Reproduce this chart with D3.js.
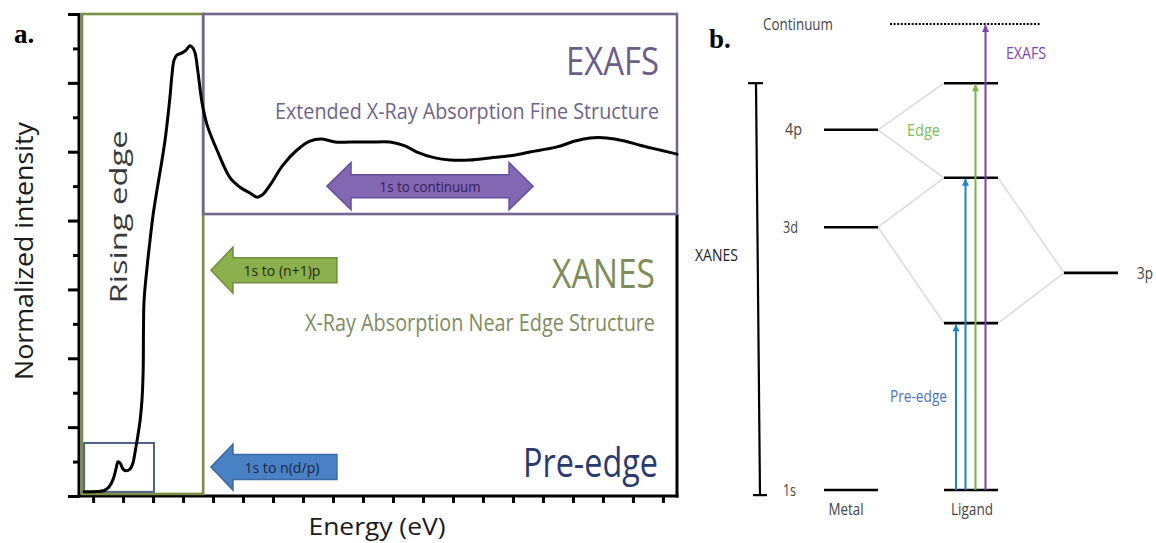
<!DOCTYPE html>
<html>
<head>
<meta charset="utf-8">
<script src="https://cdn.jsdelivr.net/npm/d3@7"></script>
<style>
  body { margin: 0; background: #fff; }
  svg { display: block; }
</style>
</head>
<body>
<svg id="fig" width="1156" height="543"></svg>
<script>
// ---------- Panel a: normalized XAS spectrum ----------
const energy = [-0.30, 0.10, 0.37, 0.53, 0.67, 0.77, 0.83, 0.90, 1.00, 1.10, 1.23, 1.33, 1.40, 1.47,
  1.57, 1.63, 1.67, 1.68, 1.70, 1.80, 1.90, 2.00, 2.13, 2.27, 2.40, 2.50, 2.57, 2.63, 2.70, 2.80,
  2.97, 3.10, 3.23, 3.33, 3.40, 3.50, 3.63, 3.80, 4.13, 4.57, 4.90, 5.23, 5.47, 5.67, 5.90, 6.33,
  6.80, 7.23, 7.63, 8.07, 8.57, 9.23, 9.90, 10.40, 10.80, 11.40, 11.90, 12.57, 13.23, 13.90, 14.57,
  15.47, 16.07, 16.57, 17.13, 17.73, 18.23, 18.90, 19.47];
const intensity = [0.12, 0.13, 0.16, 0.26, 0.49, 0.81, 0.99, 0.96, 0.78, 0.73, 0.78, 0.96, 1.28, 1.63,
  2.21, 2.79, 3.66, 4.82, 5.69, 6.65, 7.44, 8.16, 8.89, 9.61, 10.34, 11.07, 11.65, 12.23, 12.66, 12.81,
  12.87, 12.95, 13.08, 13.01, 12.87, 12.29, 11.44, 10.78, 10.05, 9.24, 8.97, 8.80, 8.68, 8.77, 9.03, 9.61,
  10.05, 10.31, 10.37, 10.28, 10.28, 10.28, 10.28, 10.17, 9.99, 9.82, 9.76, 9.76, 9.82, 9.88, 9.99,
  10.14, 10.31, 10.40, 10.40, 10.31, 10.19, 10.05, 9.93];

const energyTicks = [0, 1, 2, 3, 4, 5, 6, 7, 8, 9, 10, 11, 12, 13, 14, 15, 16, 17, 18, 19];
const intensityMajorTicks = [0, 2, 4, 6, 8, 10, 12, 14];
const intensityMinorTicks = [1, 3, 5, 7, 9, 11, 13];

// spectral regions (energy span, intensity span)
const regionNames = ["Rising edge", "EXAFS", "Pre-edge"];
const regionE0 = [-0.37, 3.67, -0.30];
const regionE1 = [3.67, 19.47, 2.03];
const regionI0 = [0.06, 8.19, 0.12];
const regionI1 = [14.0, 14.0, 1.54];

// transitions drawn as block arrows
const transitionLabels = ["1s to (n+1)p", "1s to n(d/p)", "1s to continuum"];
const transitionE0 = [3.93, 3.93, 7.80];
const transitionE1 = [8.13, 8.13, 14.67];
const transitionI = [6.56, 0.84, 9.00];

// ---------- Panel b: energy-level diagram ----------
const columnNames = ["Metal", "Ligand", ""];
const levelNames = ["1s", "3d", "4p", "1s", "σ1", "σ2", "σ3", "3p"];
const levelColumn = [0, 0, 0, 1, 1, 1, 1, 2];
const levelEnergy = [0, 56.4, 77.3, 0, 35.8, 67.0, 87.3, 46.6];
const continuumEnergy = 100;
// mixing lines: [from level index, to level index]
const mixFrom = [2, 2, 1, 1, 5, 4];
const mixTo = [6, 5, 5, 4, 7, 7];
// excitations from ligand 1s
const excitationNames = ["Pre-edge", "Pre-edge", "Edge", "EXAFS"];
const excitationTop = [35.8, 67.0, 87.3, 100];

const svg = d3.select("#fig");
const FONT = "'Open Sans', 'DejaVu Sans', sans-serif";

const x = d3.scaleLinear().domain([-0.47, 19.47]).range([79, 677]);
const y = d3.scaleLinear().domain([0, 14]).range([496, 14]);

const a = svg.append("g");

// axes
const yMajor = a.append("g").attr("transform", `translate(${x(-0.47)},0)`)
  .call(d3.axisLeft(y).tickValues(intensityMajorTicks).tickSize(11).tickSizeOuter(0).tickFormat(""));
const yMinor = a.append("g").attr("transform", `translate(${x(-0.47)},0)`)
  .call(d3.axisLeft(y).tickValues(intensityMinorTicks).tickSize(6).tickSizeOuter(0).tickFormat(""));
yMinor.select(".domain").remove();
const xAxis = a.append("g").attr("transform", `translate(0,${y(0)})`)
  .call(d3.axisBottom(x).tickValues(energyTicks).tickSize(7).tickSizeOuter(0).tickFormat(""));
[yMajor, yMinor, xAxis].forEach(g => {
  g.selectAll("path,line").attr("stroke", "#000").attr("stroke-width", 3);
});
yMajor.select(".domain").attr("d", `M0,${y(0) + 1.5}V${y(14) - 1}`);
xAxis.select(".domain").attr("d", `M${x(-0.47) - 1.5},0H${x(19.47) + 1.5}`);
// right frame
a.append("line").attr("x1", x(19.47)).attr("x2", x(19.47))
  .attr("y1", y(8.19)).attr("y2", y(0) + 1.5).attr("stroke", "#000").attr("stroke-width", 3);

// region boxes
const regionStroke = ["#7a8e45", "#73668f", "#4e6384"];
regionNames.forEach((n, i) => {
  a.append("rect")
    .attr("x", x(regionE0[i])).attr("y", y(regionI1[i]))
    .attr("width", x(regionE1[i]) - x(regionE0[i]))
    .attr("height", y(regionI0[i]) - y(regionI1[i]))
    .attr("fill", "none").attr("stroke", regionStroke[i]).attr("stroke-width", i === 2 ? 2 : 2.6);
});

// spectrum
a.append("path")
  .datum(energy.map((e, i) => [e, intensity[i]]))
  .attr("d", d3.line().x(d => x(d[0])).y(d => y(d[1])).curve(d3.curveCatmullRom.alpha(0.5)))
  .attr("fill", "none").attr("stroke", "#000").attr("stroke-width", 3)
  .attr("stroke-linejoin", "round").attr("stroke-linecap", "round");

// block arrows
const arrowFill = ["#8db04f", "#4a80c4", "#8467b3"];
const arrowStroke = ["#6f8f3c", "#3b6aa3", "#66509a"];
const arrowText = ["#1f2a0c", "#182844", "#32215a"];
function blockArrow(x0, x1, yc, headLen, headHalf, bodyHalf, both) {
  const p = [];
  p.push([x0, yc], [x0 + headLen, yc - headHalf], [x0 + headLen, yc - bodyHalf]);
  if (both) {
    p.push([x1 - headLen, yc - bodyHalf], [x1 - headLen, yc - headHalf], [x1, yc],
           [x1 - headLen, yc + headHalf], [x1 - headLen, yc + bodyHalf]);
  } else {
    p.push([x1, yc - bodyHalf], [x1, yc + bodyHalf]);
  }
  p.push([x0 + headLen, yc + bodyHalf], [x0 + headLen, yc + headHalf]);
  return "M" + p.map(q => q.join(",")).join("L") + "Z";
}
const arrowTextLen = [77, 75, 101];
transitionLabels.forEach((t, i) => {
  const both = i === 2;
  const x0 = x(transitionE0[i]), x1 = x(transitionE1[i]), yc = y(transitionI[i]);
  a.append("path")
    .attr("d", both ? blockArrow(x0, x1, yc, 24, 23.5, 11.5, true) : blockArrow(x0, x1, yc, 22, 23, 12.5, false))
    .attr("fill", arrowFill[i]).attr("stroke", arrowStroke[i]).attr("stroke-width", 1.5);
  const cx = both ? (x0 + x1) / 2 : x0 + 22 + (x1 - x0 - 22) / 2 - 3;
  a.append("text").attr("x", cx).attr("y", yc + 5.5)
    .attr("text-anchor", "middle").attr("font-family", FONT).attr("font-size", 15)
    .attr("fill", arrowText[i]).attr("textLength", arrowTextLen[i]).attr("lengthAdjust", "spacingAndGlyphs")
    .text(t);
});

// titles
function label(g, txt, px, py, size, color, len, anchor, extra) {
  const t = g.append("text").attr("x", px).attr("y", py)
    .attr("font-family", FONT).attr("font-size", size).attr("fill", color)
    .attr("text-anchor", anchor || "start").text(txt);
  if (len) t.attr("textLength", len).attr("lengthAdjust", "spacingAndGlyphs");
  if (extra) extra(t);
  return t;
}
label(a, "EXAFS", 659, 75, 38, "#6a5d88", 93, "end");
label(a, "Extended X-Ray Absorption Fine Structure", 659, 119, 22, "#6e6487", 384, "end");
label(a, "XANES", 655, 288, 40, "#7f8c5b", 103, "end");
label(a, "X-Ray Absorption Near Edge Structure", 655, 331, 23, "#7f8b61", 350, "end");
label(a, "Pre-edge", 658, 477, 40, "#2a3a6c", 135, "end");
label(a, "Rising edge", 0, 0, 24, "#3a3a3a", 173, "middle",
  t => t.attr("transform", "translate(127,217) rotate(-90)"));
label(a, "Normalized intensity", 0, 0, 25, "#1a1a1a", 258, "middle",
  t => t.attr("transform", "translate(33,251) rotate(-90)"));
label(a, "Energy (eV)", 377, 535, 24, "#1a1a1a", 137, "middle");

// panel letters
svg.append("text").attr("x", 14).attr("y", 43).attr("font-family", "'Liberation Serif', serif")
  .attr("font-weight", "bold").attr("font-size", 27).attr("fill", "#000").text("a.");
svg.append("text").attr("x", 709).attr("y", 48).attr("font-family", "'Liberation Serif', serif")
  .attr("font-weight", "bold").attr("font-size", 27).attr("fill", "#000").text("b.");

// ---------- Panel b drawing ----------
const b = svg.append("g");
const ey = d3.scaleLinear().domain([0, continuumEnergy]).range([490, 24]);
const cx = d3.scaleLinear().domain([0, 2]).range([851, 1091]);
const halfW = 27;

// mixing lines
mixFrom.forEach((f, i) => {
  const t = mixTo[i];
  b.append("line")
    .attr("x1", cx(levelColumn[f]) + halfW).attr("y1", ey(levelEnergy[f]))
    .attr("x2", cx(levelColumn[t]) - halfW).attr("y2", ey(levelEnergy[t]))
    .attr("stroke", "#dcdcdc").attr("stroke-width", 1.6);
});

// levels
levelNames.forEach((n, i) => {
  b.append("line")
    .attr("x1", cx(levelColumn[i]) - halfW).attr("x2", cx(levelColumn[i]) + halfW)
    .attr("y1", ey(levelEnergy[i])).attr("y2", ey(levelEnergy[i]))
    .attr("stroke", "#000").attr("stroke-width", 2.6);
});

// continuum
b.append("line").attr("x1", 890).attr("x2", 1041)
  .attr("y1", ey(continuumEnergy)).attr("y2", ey(continuumEnergy))
  .attr("stroke", "#000").attr("stroke-width", 2).attr("stroke-dasharray", "2,1.6");

// XANES bracket
const bx0 = 756, bx1 = 760;
b.append("line").attr("x1", bx0).attr("y1", ey(87.3)).attr("x2", bx1).attr("y2", ey(-1.1))
  .attr("stroke", "#000").attr("stroke-width", 2.2);
b.append("line").attr("x1", bx0 - 8).attr("x2", bx0 + 7).attr("y1", ey(87.3)).attr("y2", ey(87.3))
  .attr("stroke", "#000").attr("stroke-width", 2.2);
b.append("line").attr("x1", bx1 - 7).attr("x2", bx1 + 7).attr("y1", ey(-1.1)).attr("y2", ey(-1.1))
  .attr("stroke", "#000").attr("stroke-width", 2.2);

// excitation arrows
const excColor = ["#1f80d0", "#1f80d0", "#73b845", "#7c3fae"];
const excOffset = [-15, -5.5, 4.5, 14.5];
const defs = svg.append("defs");
excColor.forEach((c, i) => {
  defs.append("marker").attr("id", "head" + i)
    .attr("viewBox", "0 0 8 8").attr("refX", 8).attr("refY", 4)
    .attr("markerWidth", 8).attr("markerHeight", 7).attr("markerUnits", "userSpaceOnUse")
    .attr("orient", "auto")
    .append("path").attr("d", "M0,0L8,4L0,8Z").attr("fill", c);
});
excitationNames.forEach((n, i) => {
  const xx = cx(1) + excOffset[i];
  b.append("line").attr("x1", xx).attr("x2", xx)
    .attr("y1", ey(0)).attr("y2", ey(excitationTop[i]) + 1)
    .attr("stroke", excColor[i]).attr("stroke-width", 2)
    .attr("marker-end", `url(#head${i})`);
});

// diagram labels
const NFONT = "'Open Sans', 'DejaVu Sans', sans-serif";
function blabel(txt, px, py, color, len, anchor) {
  const t = b.append("text").attr("x", px).attr("y", py).attr("font-family", NFONT)
    .attr("font-size", 16).attr("fill", color).attr("text-anchor", anchor || "start").text(txt);
  if (len) t.attr("textLength", len).attr("lengthAdjust", "spacingAndGlyphs");
}
blabel("Continuum", 763, 30, "#444", 70);
blabel("EXAFS", 1006, 59, "#7f44b6", 40);
blabel("Edge", 907, 136, "#79bd58", 33);
blabel("Pre-edge", 890, 402, "#4a74bc", 57);
blabel("XANES", 695, 261, "#222", 43);
blabel(levelNames[2], 785, 135, "#444", 17);
blabel(levelNames[1], 783, 233, "#444", 15);
blabel(levelNames[0], 783, 496, "#444", 13);
blabel(levelNames[7], 1137, 279, "#444", 16);
blabel(columnNames[0], cx(0) - 5, 515, "#444", 35, "middle");
blabel(columnNames[1], cx(1) + 1, 515, "#444", 42, "middle");
</script>
</body>
</html>
